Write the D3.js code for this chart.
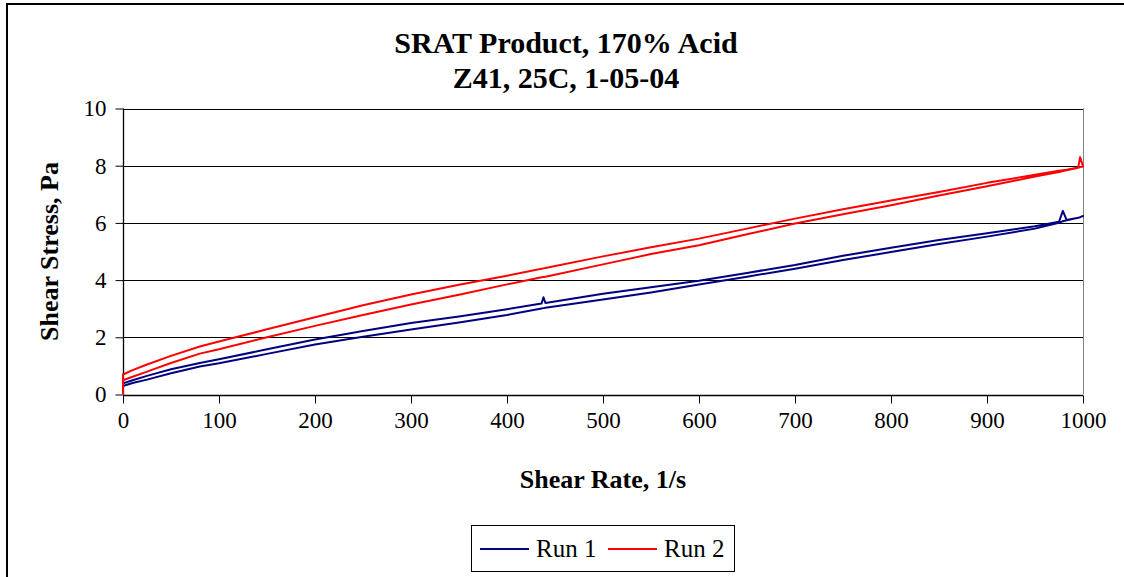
<!DOCTYPE html>
<html>
<head>
<meta charset="utf-8">
<script src="https://cdn.jsdelivr.net/npm/d3@7"></script>
<style>
  html, body { margin: 0; padding: 0; background: #fff; }
  svg { display: block; }
  text { font-family: "Liberation Serif", "Times New Roman", serif; fill: #000; }
</style>
</head>
<body>
<svg id="chart" width="1124" height="577"></svg>
<script>
// ---- data ----
const titleLines = ["SRAT Product, 170% Acid", "Z41, 25C, 1-05-04"];
const xAxisTitle = "Shear Rate, 1/s";
const yAxisTitle = "Shear Stress, Pa";
const seriesNames = ["Run 1", "Run 2"];
const seriesColors = ["#000080", "#FF0000"];
const xTickValues = [0, 100, 200, 300, 400, 500, 600, 700, 800, 900, 1000];
const yTickValues = [0, 2, 4, 6, 8, 10];

// shear rate (1/s) shared by all four curves
const shearRate = [0, 0, 10, 25, 50, 80, 100, 150, 200, 250, 300, 350, 400, 436, 438, 440,
  500, 550, 600, 650, 700, 750, 800, 850, 900, 950, 975, 979, 983, 995, 997, 1000];
// Run 1 ramp up / ramp down (Pa)
const run1Up   = [0.15, 0.39, 0.50, 0.65, 0.88, 1.10, 1.23, 1.58, 1.92, 2.22, 2.50, 2.73, 2.98, 3.18, 3.40, 3.20,
  3.52, 3.75, 3.98, 4.25, 4.53, 4.85, 5.13, 5.40, 5.64, 5.88, 6.04, 6.42, 6.10, 6.18, 6.20, 6.24];
const run1Down = [0.30, 0.30, 0.40, 0.52, 0.74, 0.98, 1.09, 1.42, 1.75, 2.02, 2.27, 2.52, 2.78, 3.01, 3.02, 3.03,
  3.32, 3.57, 3.85, 4.12, 4.40, 4.70, 4.98, 5.26, 5.52, 5.80, 6.00, 6.06, 6.09, 6.18, 6.20, 6.24];
// Run 2 ramp up / ramp down (Pa)
const run2Up   = [0.00, 0.70, 0.85, 1.05, 1.35, 1.68, 1.85, 2.28, 2.70, 3.12, 3.50, 3.84, 4.15, 4.40, 4.41, 4.42,
  4.83, 5.15, 5.45, 5.80, 6.15, 6.48, 6.78, 7.08, 7.40, 7.68, 7.82, 7.84, 7.86, 7.94, 8.30, 7.97];
const run2Down = [0.50, 0.50, 0.62, 0.80, 1.10, 1.43, 1.58, 2.00, 2.40, 2.78, 3.15, 3.49, 3.85, 4.10, 4.11, 4.12,
  4.55, 4.91, 5.22, 5.60, 5.98, 6.30, 6.62, 6.96, 7.28, 7.62, 7.78, 7.81, 7.84, 7.93, 7.95, 7.97];

// ---- layout ----
const svg = d3.select("#chart");
const W = 1124, H = 577;
const plot = { left: 123, right: 1083, top: 108.5, bottom: 394.5 };

svg.append("rect").attr("width", W).attr("height", H).attr("fill", "#fff");
// outer chart frame (extends past right/bottom of the window)
svg.append("rect").attr("x", 7).attr("y", 4).attr("width", W + 20).attr("height", H + 20)
  .attr("fill", "none").attr("stroke", "#000").attr("stroke-width", 2);

const x = d3.scaleLinear().domain([0, 1000]).range([plot.left, plot.right]);
const y = d3.scaleLinear().domain([0, 10]).range([plot.bottom, plot.top]);

// gridlines
svg.append("g").selectAll("line").data(yTickValues.filter(d => d > 0)).join("line")
  .attr("x1", plot.left).attr("x2", plot.right)
  .attr("y1", d => Math.round(y(d)) + 0.5).attr("y2", d => Math.round(y(d)) + 0.5)
  .attr("stroke", "#000").attr("stroke-width", 1);
// plot area right border (grey)
svg.append("line").attr("x1", Math.round(plot.right) + 0.5).attr("x2", Math.round(plot.right) + 0.5)
  .attr("y1", y(10)).attr("y2", y(0)).attr("stroke", "#808080").attr("stroke-width", 1);

// axes
const xAxis = d3.axisBottom(x).tickValues(xTickValues).tickSize(8).tickPadding(8).tickFormat(d3.format("d"));
const yAxis = d3.axisLeft(y).tickValues(yTickValues).tickSize(8).tickPadding(9).tickFormat(d3.format("d"));

const gx = svg.append("g").attr("transform", `translate(0,${Math.round(plot.bottom) + 0.5})`).call(xAxis);
const gy = svg.append("g").attr("transform", `translate(${Math.round(plot.left) + 0.5},0)`).call(yAxis);
[gx, gy].forEach(g => {
  g.select(".domain").attr("stroke", "#000").attr("stroke-width", 1.3);
  g.selectAll(".tick line").attr("stroke", "#000");
  g.selectAll(".tick text").style("font-family", '"Liberation Serif", serif').style("font-size", "23px").attr("fill", "#000");
});
gx.select(".domain").attr("d", `M${plot.left},0H${plot.right}`);
gy.select(".domain").attr("d", `M0,${plot.bottom}V${plot.top}`);

// data lines: ramp up then ramp down, per run
const line = d3.line().x(d => x(d[0])).y(d => y(d[1]));
function loop(up, down) {
  const a = shearRate.map((r, i) => [r, up[i]]);
  const b = shearRate.map((r, i) => [r, down[i]]).reverse();
  return a.concat(b);
}
const runs = [loop(run1Up, run1Down), loop(run2Up, run2Down)];
svg.append("g").selectAll("path").data(runs).join("path")
  .attr("d", line)
  .attr("fill", "none")
  .attr("stroke", (d, i) => seriesColors[i])
  .attr("stroke-width", 2)
  .attr("stroke-linejoin", "round");

// titles
const titleX = 566;
svg.append("text").attr("x", titleX).attr("y", 53).attr("text-anchor", "middle")
  .style("font-size", "30px").style("font-weight", "bold").text(titleLines[0]);
svg.append("text").attr("x", titleX).attr("y", 88).attr("text-anchor", "middle")
  .style("font-size", "30px").style("font-weight", "bold").text(titleLines[1]);

svg.append("text").attr("x", (plot.left + plot.right) / 2).attr("y", 488).attr("text-anchor", "middle")
  .style("font-size", "26px").style("font-weight", "bold").text(xAxisTitle);

svg.append("text").attr("transform", `translate(58,${(plot.top + plot.bottom) / 2}) rotate(-90)`)
  .attr("text-anchor", "middle")
  .style("font-size", "26px").style("font-weight", "bold").text(yAxisTitle);

// legend
const lg = svg.append("g");
lg.append("rect").attr("x", 471.5).attr("y", 525.5).attr("width", 263).attr("height", 46)
  .attr("fill", "#fff").attr("stroke", "#000").attr("stroke-width", 1);
const legendItems = [
  { name: seriesNames[0], color: seriesColors[0], x0: 480 },
  { name: seriesNames[1], color: seriesColors[1], x0: 608 }
];
legendItems.forEach(it => {
  lg.append("line").attr("x1", it.x0).attr("x2", it.x0 + 49).attr("y1", 549).attr("y2", 549)
    .attr("stroke", it.color).attr("stroke-width", 2);
  lg.append("text").attr("x", it.x0 + 56).attr("y", 557).style("font-size", "25px").text(it.name);
});
</script>
</body>
</html>
